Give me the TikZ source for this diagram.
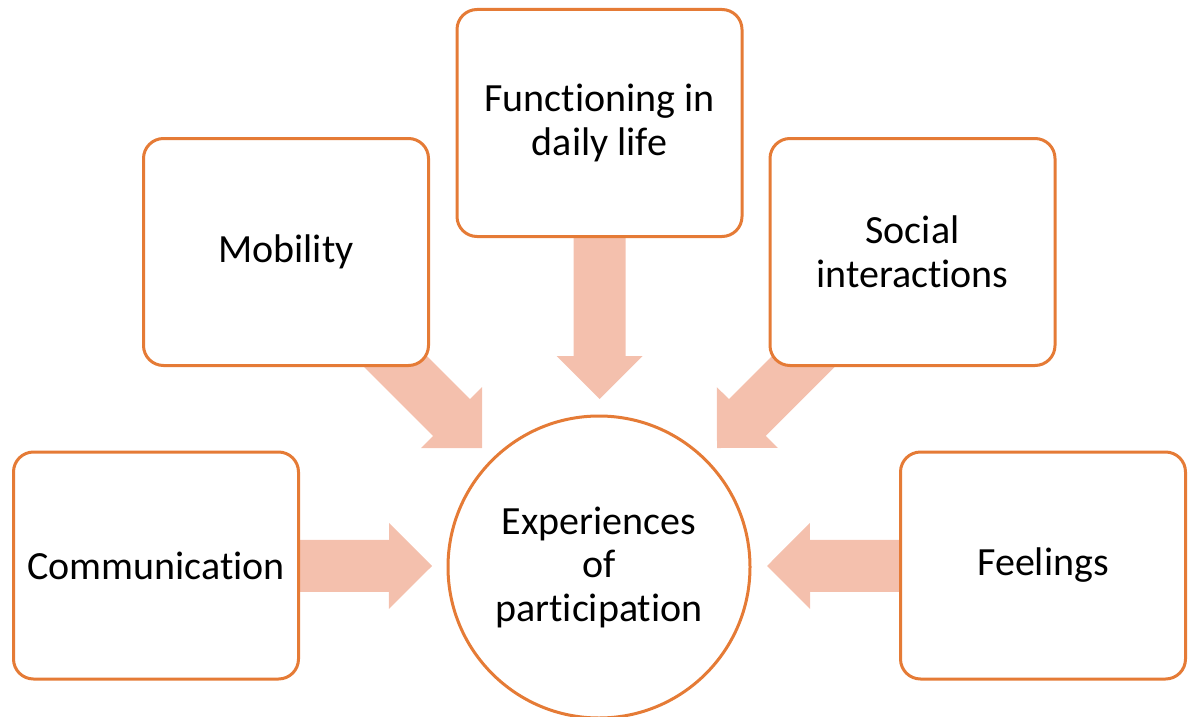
\documentclass[tikz,border=0pt]{standalone}
\usepackage{fontspec}
\setmainfont{Carlito}[Ligatures={NoCommon,NoRare,NoContextual}]
\usetikzlibrary{calc,backgrounds}

\definecolor{edge}{HTML}{E57B36}
\definecolor{flowfill}{HTML}{F4C0AD}

\tikzset{
  topic/.style={draw=edge, line width=3pt, fill=white, rounded corners=20pt,
    minimum width=285pt, minimum height=227pt, inner sep=0pt, align=center,
    font=\fontsize{40}{43.5}\selectfont},
  hub/.style={draw=edge, line width=3pt, fill=white, circle,
    minimum size=302pt, inner sep=0pt, align=center,
    font=\fontsize{40}{43.5}\selectfont},
  flow/.style={fill=flowfill}
}

% broad block arrow from the centre of #1 to the point #2
\newcommand{\blockarrow}[2]{%
  \path ($(#2)!43pt!(#1)$) coordinate (hb);
  \fill[flow] ($(#1)!26pt!90:(#2)$) -- ($(hb)!26pt!90:(#2)$)
    -- ($(hb)!43pt!90:(#2)$) -- (#2) -- ($(hb)!43pt!-90:(#2)$)
    -- ($(hb)!26pt!-90:(#2)$) -- ($(#1)!26pt!-90:(#2)$) -- cycle;
}

\begin{document}
\begin{tikzpicture}[x=1pt,y=-1pt]
  \useasboundingbox (0,0) rectangle (1191,717);

  \node[hub] (exp) at (599,567) {Experiences\\of\\participation};

  \node[topic] (comm) at (156,565.5) {Communication};
  \node[topic] (feel) at (1043,565.5) {Feelings};
  \node[topic] (mob)  at (286,252) {Mobility};
  \node[topic] (soc)  at (912.5,252) {Social\\interactions};
  \node[topic] (func) at (599.5,123) {Functioning in\\daily life};

  % arrow tips, just short of the circle
  \coordinate (tcomm) at (432,566);
  \coordinate (tfeel) at (767,566);
  \coordinate (tmob)  at (482,448);
  \coordinate (tsoc)  at (717,448);
  \coordinate (tfunc) at (599.5,399);

  \begin{scope}[on background layer]
    \blockarrow{comm.center}{tcomm}
    \blockarrow{feel.center}{tfeel}
    \blockarrow{mob.center}{tmob}
    \blockarrow{soc.center}{tsoc}
    \blockarrow{func.center}{tfunc}
  \end{scope}
\end{tikzpicture}
\end{document}
